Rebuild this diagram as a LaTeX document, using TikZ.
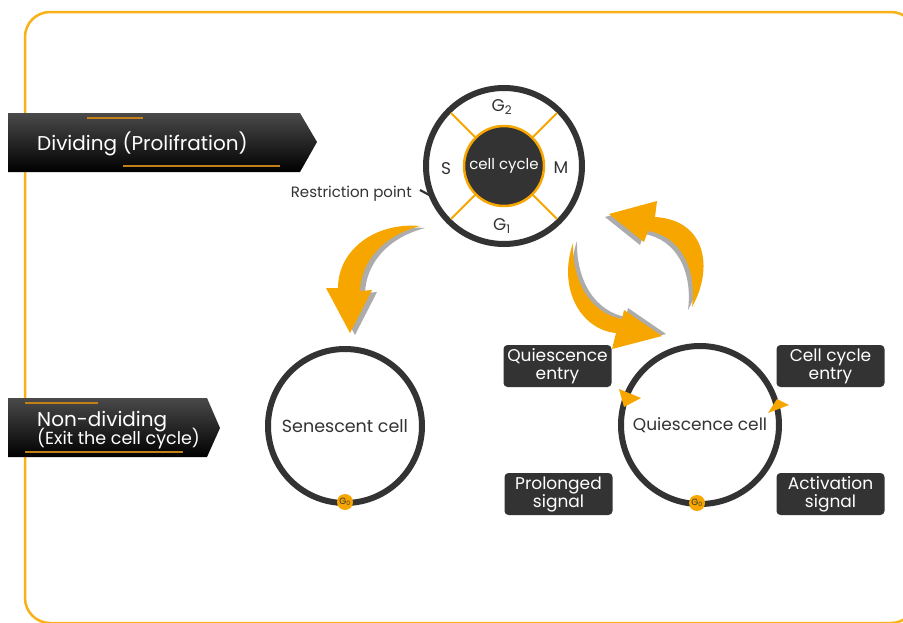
\documentclass[tikz,border=0pt]{standalone}
\usepackage{fontspec}
\setmainfont{Poppins}
\definecolor{org}{RGB}{247,166,0}
\definecolor{frameorg}{RGB}{248,178,24}
\definecolor{dk}{RGB}{51,51,51}
\definecolor{gld}{RGB}{196,128,24}
\definecolor{shd}{RGB}{172,172,172}
\newcommand{\setfs}[1]{\fontsize{#1}{#1}\selectfont}
\tikzset{
  ring/.style={circle, draw=dk, line width=6pt, inner sep=0pt, text=dk},
  dbox/.style={rounded corners=4pt, fill=dk, text=white, minimum width=108pt, minimum height=42pt, align=center, inner sep=0pt, font=\fontsize{17}{18}\selectfont},
  gzero/.style={circle, fill=org, minimum size=16pt, inner sep=0pt, text=dk, font=\setfs{9}},
  banner/.style={top color={rgb,255:red,74;green,74;blue,74}, middle color={rgb,255:red,28;green,28;blue,28}, bottom color=black},
  accent/.style={gld, line width=2pt},
  bigarrow/.style={fill=org},
  arrowshadow/.style={fill=shd},
  phase/.style={text=dk, font=\setfs{17}}
}
\begin{document}
\begin{tikzpicture}[x=1pt,y=-1pt]
\useasboundingbox (0,0) rectangle (903,622);
\clip (0,0) rectangle (903,622);
\fill[white] (0,0) rectangle (903,622);
% frame
\draw[frameorg, line width=2.5pt, rounded corners=25pt] (25,12) rectangle (916,623);

% banners
\shade[banner] (8,113) -- (300,113) -- (317,142) -- (300,172) -- (8,172) -- cycle;
\draw[accent] (87,118) -- (143,118);
\draw[accent] (123,166) -- (280,166);
\node[anchor=base west, text=white, font=\setfs{20}, inner sep=0pt] (div) at (37,150) {Dividing (Prolifration)};

\shade[banner] (8,398) -- (207,398) -- (220,428) -- (207,457) -- (8,457) -- cycle;
\draw[accent] (25,403) -- (98,403);
\draw[accent] (25,452) -- (183,452);
\node[anchor=base west, text=white, font=\setfs{20}, inner sep=0pt] (nd1) at (37,426) {Non-dividing};
\node[anchor=base west, text=white, font=\setfs{17.5}, inner sep=0pt] (nd2) at (37,444) {(Exit the cell cycle)};

% cell cycle
\node[ring, minimum size=156pt] (cc) at (504,166) {};
\foreach \a in {45,135,225,315}
  \draw[org, line width=1.8pt] ([shift={(\a:40)}]cc.center) -- ([shift={(\a:75)}]cc.center);
\node[circle, fill=dk, draw=org, line width=2.5pt, minimum size=80pt, inner sep=0pt, text=white, font=\setfs{15}] (core) at (cc.center) {cell cycle};
\node[phase] (g2) at (502,107) {G\textsubscript{2}};
\node[phase] (ph-s) at (446,169) {S};
\node[phase] (ph-m) at (561,168) {M};
\node[phase] (g1) at (502,226) {G\textsubscript{1}};
\node[anchor=east, text=dk, font=\setfs{15}, inner sep=0pt] (rp) at (412,194) {Restriction point};
\draw[dk, line width=2.2pt] ([shift={(-84,24)}]cc.center) -- ([shift={(-71,31)}]cc.center);

% senescent
\node[ring, minimum size=154pt, font=\setfs{17.5}] (sen) at (345,426) {Senescent cell};
\node[gzero] (g0a) at (345,502) {G\textsubscript{0}};

% quiescence
\node[ring, minimum size=158pt, font=\setfs{17}] (qc) at (700,425) {Quiescence cell};
\node[gzero] (g0b) at (697,503) {G\textsubscript{0}};
\fill[org] (619,389) -- (641,398) -- (624,407) -- cycle;
\fill[org] (777,399) -- (789,405) -- (768,413) -- cycle;

% boxes
\node[dbox] (qe) at (557.5,366) {Quiescence\\entry};
\node[dbox] (cce) at (830.5,366) {Cell cycle\\entry};
\node[dbox] (ps) at (558.5,494) {Prolonged\\signal};
\node[dbox] (as) at (830.5,494) {Activation\\signal};

% senescent arrow
\begin{scope}[shift={(5,2)}]
\fill[arrowshadow] (420,226) .. controls (375,222) and (338,250) .. (338,288) -- (326,288) -- (350,333) -- (372,290) -- (360,291) .. controls (361,262) and (382,236) .. (420,226) -- cycle;
\end{scope}
\fill[bigarrow] (420,226) .. controls (375,222) and (338,250) .. (338,288) -- (326,288) -- (350,333) -- (372,290) -- (360,291) .. controls (361,262) and (382,236) .. (420,226) -- cycle;

% upper cycle arrow
\begin{scope}[shift={(-4,3)}]
\fill[arrowshadow] (692,307) .. controls (714,268) and (706,220) .. (655,217) -- (657,201) -- (609,214) -- (644,242) -- (648,231) .. controls (680,236) and (697,268) .. (692,307) -- cycle;
\end{scope}
\fill[bigarrow] (692,307) .. controls (714,268) and (706,220) .. (655,217) -- (657,201) -- (609,214) -- (644,242) -- (648,231) .. controls (680,236) and (697,268) .. (692,307) -- cycle;

% lower cycle arrow
\begin{scope}[shift={(4,-2)}]
\fill[arrowshadow] (573,243) .. controls (557,290) and (582,330) .. (616,333) -- (612,349) -- (662,336) -- (624,310) -- (622,319) .. controls (593,314) and (572,285) .. (573,243) -- cycle;
\end{scope}
\fill[bigarrow] (573,243) .. controls (557,290) and (582,330) .. (616,333) -- (612,349) -- (662,336) -- (624,310) -- (622,319) .. controls (593,314) and (572,285) .. (573,243) -- cycle;
\end{tikzpicture}
\end{document}
